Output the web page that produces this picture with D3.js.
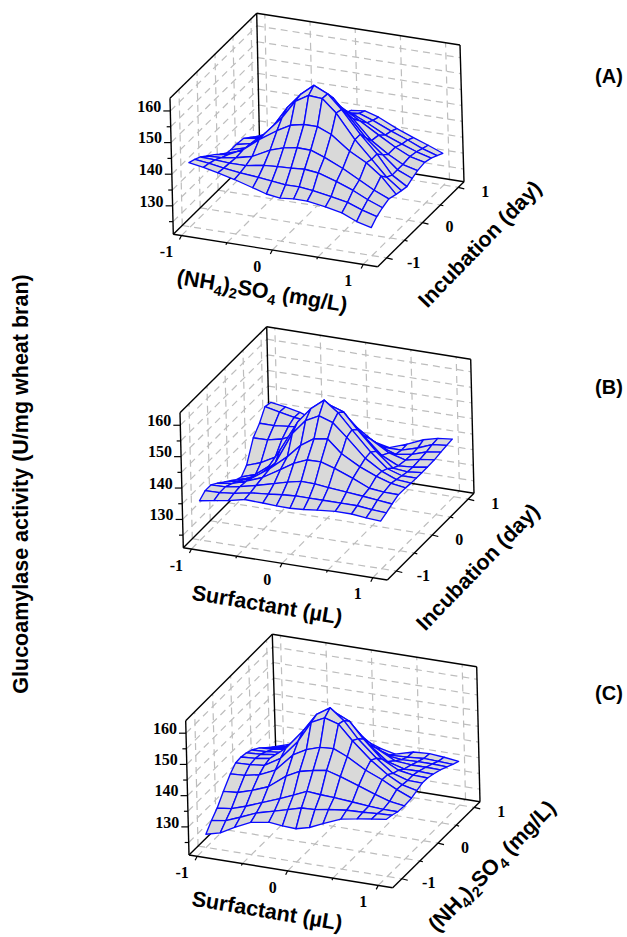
<!DOCTYPE html>
<meta charset="utf-8">
<style>
    body { margin: 0; background: #fff; }
</style>

<!-- Load d3.js -->
<script src="https://d3js.org/d3.v7.min.js"></script>

<div id="my_dataviz"></div>
<script>

    // surface nodes along both factor axes (coded levels)
    const levelsX = [-1, -.84, -.68, -.5, -.3, -.15, 0, .15, .3, .5, .68, .84, 1];
    const levelsY = [-1, -.84, -.68, -.5, -.3, -.15, 0, .15, .3, .5, .68, .84, 1];

    // activity, one row per levelsY value, front to back
    const surfaceA = [
        [141.3, 140.5, 139.5, 138.2, 136.5, 135.2, 134.6, 135, 135, 134.1, 133, 131, 129.8],
        [140.5, 140, 139.2, 138.5, 138, 137.5, 137, 137, 136.5, 135.5, 134.5, 132.8, 131.5],
        [139.5, 139.3, 139, 139, 140, 140.3, 140.5, 140.8, 140.3, 138.5, 136.5, 134.3, 132.5],
        [137.8, 138, 138.7, 139.9, 142.8, 144.2, 144.9, 144.8, 143.2, 140.6, 137.8, 135.3, 133.3],
        [136, 136.8, 139, 143, 146.7, 149.1, 150, 150, 148.2, 143.8, 141, 137.5, 132.5],
        [134.5, 135.8, 138, 143.2, 149.2, 155, 157.5, 157.2, 153.3, 145.8, 140.4, 135.5, 132],
        [132.7, 134, 137, 142.6, 150.7, 155.5, 159, 157, 152.7, 145.8, 140.4, 134.5, 131.6],
        [132.5, 133.8, 136.5, 141.5, 148, 152.5, 155.5, 154, 149.5, 143, 138.5, 134.5, 132.5],
        [132.5, 133.5, 136, 140, 145, 149, 151.5, 150, 146.5, 140.5, 137, 134.5, 133.3],
        [132.2, 133, 134.5, 137, 140.5, 143.5, 146, 146, 143.5, 140, 137, 134.8, 133.7],
        [130.5, 131.5, 133, 135, 138.5, 141, 143, 143, 141, 138, 136, 134.3, 133],
        [129, 130, 131.5, 133.5, 136.5, 139, 141, 141.5, 140, 137.5, 135.5, 133.5, 132],
        [127.7, 129, 130.5, 132.5, 135, 137.5, 140, 140.5, 139.2, 136.5, 134.5, 132.8, 131]
    ];
    const surfaceB = [
        [133.5, 134.3, 135, 136.2, 136, 135.8, 135.7, 136, 136.5, 137, 137, 136.5, 136.2],
        [134.9, 135, 135.5, 136.5, 137, 137.5, 137.8, 137.8, 137.8, 137.8, 137.8, 137.3, 137],
        [134.9, 135, 135.8, 137, 138.5, 139.7, 140.6, 140.5, 140, 139.5, 139, 138.5, 138],
        [133.4, 134, 135.5, 137.5, 140.9, 143.6, 145.4, 145.5, 144.1, 141.8, 139.5, 139, 138.9],
        [131.5, 132.5, 134.5, 138, 142.8, 147.1, 149.9, 150.5, 146.5, 143.2, 141, 139.5, 138.8],
        [130.2, 131.5, 133.5, 138, 148.5, 153.3, 155.5, 154, 150, 144.2, 140.9, 139, 138.6],
        [128.7, 130, 132.5, 140.6, 150.4, 155.4, 158.8, 155.5, 150.7, 144.5, 140, 138.5, 138.5],
        [127.9, 129.5, 133, 139.5, 148.5, 153, 155.5, 154, 149, 143, 138.5, 138, 138.5],
        [129.9, 131.5, 134, 139, 146, 150, 152, 150, 145.5, 140, 137.5, 137.8, 138.5],
        [136.4, 136.5, 137.5, 140, 143.5, 145.5, 146.5, 145, 142, 138.5, 137, 138, 138.6],
        [139, 139, 139.5, 140, 141, 142, 142.5, 140.5, 138, 136, 136.8, 138.3, 139],
        [142.5, 141.5, 140.5, 140, 139.8, 139.5, 139, 137.5, 135.5, 135.5, 137, 138.8, 139.3],
        [142, 141.3, 140.3, 138.5, 137.5, 137, 136.3, 134.5, 133.5, 135.6, 137.8, 139, 139.5]
    ];
    const surfaceC = [
        [125.2, 126.4, 128.9, 131.3, 132.3, 131.8, 131.6, 132.7, 134.6, 137, 137.9, 138.6, 139.2],
        [127.8, 128.5, 130.3, 132.5, 134, 135.2, 136.4, 136.6, 137.3, 138, 138.2, 138.5, 138.7],
        [129.9, 130.5, 132, 134, 136.2, 138, 139.9, 139.5, 139.3, 138.8, 138.3, 138, 138],
        [133.2, 133.6, 135, 137, 141.3, 143.5, 144.5, 145.2, 143.9, 141.9, 140, 138.5, 137.8],
        [136.5, 136.8, 137.7, 140, 145.8, 148.2, 149.6, 149.9, 148, 144.6, 142.4, 140, 138],
        [138.3, 138.5, 139, 142.1, 148.5, 155.2, 157.3, 156, 151.4, 146.1, 142.3, 139.8, 138.7],
        [138.5, 138.8, 139.5, 143.6, 150.2, 156, 158.8, 155.4, 150.3, 145, 141, 139.5, 139.4],
        [138.1, 138.4, 139, 142, 148, 153, 155.5, 153.5, 148.5, 143, 140.3, 139.5, 139.3],
        [137.3, 137.5, 138, 140, 145, 149.5, 151.5, 149.5, 145, 140.5, 139, 139, 138.8],
        [135.7, 136, 136.7, 138, 141.5, 144, 146, 144.5, 141.5, 138.5, 138, 138, 137.9],
        [133.7, 134.2, 135.2, 136.5, 138.5, 140, 141, 139.5, 137.5, 136.8, 137, 137, 136.8],
        [132, 133, 134.2, 135.5, 137, 138, 138, 137, 135.5, 135.8, 136.2, 136, 135.8],
        [130.5, 132, 133.2, 134.5, 136, 136.5, 136.5, 135, 134, 135.6, 135.9, 135.5, 134.9]
    ];

    // tick labels
    const factorTicks = [-1, 0, 1];
    const factorMinor = [-1, -.5, 0, .5, 1];
    const activityTicks = [130, 140, 150, 160];
    const activityMinor = [125, 130, 135, 140, 145, 150, 155, 160];

    const width = 627, height = 937;

    const nh4 = [["(NH", 0], ["4", 1], [")", 0], ["2", 1], ["SO", 0], ["4", 1], [" (mg/L)", 0]];
    const surfactant = [["Surfactant (µL)", 0]];
    const incubation = [["Incubation (day)", 0]];

    // box corners on the page, f = floor, t = top; a=front-left b=front-right c=right d=back
    const panels = [
        { tag: "(A)", tagAt: [609, 78], z: surfaceA,
          f: { a: [173.3, 234.3], b: [377.7, 266.7], c: [464, 181.7], d: [259.7, 149.3] },
          t: { a: [170, 98.3], b: [373.3, 130], c: [460, 45], d: [256.7, 13.3] },
          xTitle: nh4, xAt: [261, 298], xRot: 9.5, yTitle: incubation, yAt: [485, 249], yRot: -46 },
        { tag: "(B)", tagAt: [609, 389], z: surfaceB,
          f: { a: [183.3, 547.7], b: [387.3, 580], c: [474, 493.3], d: [270, 461] },
          t: { a: [180, 412.7], b: [384, 445.3], c: [470.7, 359.3], d: [266.7, 326.7] },
          xTitle: surfactant, xAt: [266, 612], xRot: 9.5, yTitle: incubation, yAt: [483, 572], yRot: -46 },
        { tag: "(C)", tagAt: [609, 695], z: surfaceC,
          f: { a: [189, 855], b: [392.7, 887.7], c: [480, 801.7], d: [276.3, 769] },
          t: { a: [185.7, 720.7], b: [390, 753], c: [476.7, 666.7], d: [272.3, 634.3] },
          xTitle: surfactant, xAt: [266, 918], xRot: 9.5, yTitle: nh4, yAt: [497, 871], yRot: -46 }
    ];

    // the box reaches a little past the coded levels
    const xDomain = [-1.09, 1.16], yDomain = [-1.25, 1.16], zDomain = [121, 164];

    const svg = d3.select("#my_dataviz")
        .append("svg")
        .attr("width", width)
        .attr("height", height)
        .style("display", "block");

    const lineGen = d3.line();

    panels.forEach(p => {
        const sx = d3.scaleLinear().domain(xDomain).range([0, 1]);
        const sy = d3.scaleLinear().domain(yDomain).range([0, 1]);
        const sz = d3.scaleLinear().domain(zDomain).range([0, 1]);

        // trilinear map through the eight box corners, keeps the slight perspective
        const project = (x, y, z) => {
            const u = sx(x), v = sy(y), w = sz(z);
            const level = c => [0, 1].map(k =>
                (1 - v) * ((1 - u) * c.a[k] + u * c.b[k]) + v * ((1 - u) * c.d[k] + u * c.c[k]));
            const lo = level(p.f), hi = level(p.t);
            return [lo[0] + (hi[0] - lo[0]) * w, lo[1] + (hi[1] - lo[1]) * w];
        };

        const g = svg.append("g");
        const [x0, x1] = xDomain, [y0, y1] = yDomain, [z0, z1] = zDomain;

        // dashed walls and floor
        const gridLines = [];
        factorMinor.forEach(v => {
            gridLines.push([[v, y1, z0], [v, y1, z1]]);   // back wall
            gridLines.push([[v, y0, z0], [v, y1, z0]]);   // floor
            gridLines.push([[x0, v, z0], [x0, v, z1]]);   // left wall
            gridLines.push([[x0, v, z0], [x1, v, z0]]);   // floor
        });
        activityMinor.forEach(v => {
            gridLines.push([[x0, y0, v], [x0, y1, v]]);
            gridLines.push([[x0, y1, v], [x1, y1, v]]);
        });
        g.selectAll(".gridline")
            .data(gridLines)
            .join("path")
            .attr("class", "gridline")
            .attr("d", d => lineGen(d.map(c => project(...c))))
            .attr("fill", "none")
            .attr("stroke", "#bdbdbd")
            .attr("stroke-width", 1.2)
            .attr("stroke-dasharray", "7,5");

        // black box edges
        const edges = [
            [[x0, y0, z0], [x1, y0, z0]], [[x1, y0, z0], [x1, y1, z0]],
            [[x1, y1, z0], [x0, y1, z0]], [[x0, y1, z0], [x0, y0, z0]],
            [[x0, y0, z0], [x0, y0, z1]], [[x0, y0, z1], [x0, y1, z1]],
            [[x0, y1, z1], [x0, y1, z0]], [[x0, y1, z1], [x1, y1, z1]],
            [[x1, y1, z1], [x1, y1, z0]]
        ];
        g.selectAll(".edge")
            .data(edges)
            .join("path")
            .attr("class", "edge")
            .attr("d", d => lineGen(d.map(c => project(...c))))
            .attr("fill", "none")
            .attr("stroke", "#000")
            .attr("stroke-width", 1.4);

        // tick marks
        const tickLines = [];
        factorMinor.forEach(v => {
            const major = factorTicks.includes(v);
            const a = project(v, y0, z0), b = project(x1, v, z0);
            tickLines.push([a, [a[0] - (major ? 2 : 1), a[1] + (major ? 4 : 2)]]);
            tickLines.push([b, [b[0] + (major ? 6 : 3), b[1] + (major ? 1.5 : .8)]]);
        });
        activityMinor.forEach(v => {
            const a = project(x0, y0, v);
            tickLines.push([a, [a[0] - (activityTicks.includes(v) ? 7 : 4), a[1]]]);
        });
        g.selectAll(".tick")
            .data(tickLines)
            .join("path")
            .attr("class", "tick")
            .attr("d", d => lineGen(d))
            .attr("stroke", "#000")
            .attr("stroke-width", 1.2);

        // quads back to front so the front sheet covers the back one
        const quads = [];
        for (let j = levelsY.length - 2; j >= 0; j--) {
            for (let i = 0; i < levelsX.length - 1; i++) {
                quads.push([
                    [levelsX[i], levelsY[j], p.z[j][i]],
                    [levelsX[i + 1], levelsY[j], p.z[j][i + 1]],
                    [levelsX[i + 1], levelsY[j + 1], p.z[j + 1][i + 1]],
                    [levelsX[i], levelsY[j + 1], p.z[j + 1][i]]
                ]);
            }
        }
        g.selectAll(".cell")
            .data(quads)
            .join("path")
            .attr("class", "cell")
            .attr("d", d => lineGen(d.map(c => project(...c))) + "Z")
            .attr("fill", "#d9d9d9")
            .attr("stroke", "#0a0aff")
            .attr("stroke-width", 1.35)
            .attr("stroke-linejoin", "round");

        // tick labels
        const tickFont = text => text
            .attr("font-family", "'Liberation Serif', serif")
            .attr("font-weight", "bold")
            .attr("font-size", 16)
            .attr("fill", "#000")
            .attr("dominant-baseline", "middle");

        factorTicks.forEach(v => {
            const a = project(v, y0, z0), b = project(x1, v, z0);
            g.append("text").call(tickFont)
                .attr("x", a[0] - 15).attr("y", a[1] + 18)
                .attr("text-anchor", "middle").text(v);
            g.append("text").call(tickFont)
                .attr("x", b[0] + 27).attr("y", b[1] + 6)
                .attr("text-anchor", "middle").text(v);
        });
        activityTicks.forEach(v => {
            const a = project(x0, y0, v);
            g.append("text").call(tickFont)
                .attr("x", a[0] - 9).attr("y", a[1] - 3)
                .attr("text-anchor", "end").text(v);
        });

        // axis titles
        const drawTitle = (parts, at, rot) => {
            const t = g.append("text")
                .attr("transform", `translate(${at[0]},${at[1]})rotate(${rot})`)
                .attr("text-anchor", "middle")
                .attr("font-family", "'Liberation Sans', Arial, sans-serif")
                .attr("font-weight", "bold")
                .attr("font-size", 21.5)
                .attr("fill", "#000");
            let low = 0;
            parts.forEach(([s, sub]) => {
                t.append("tspan")
                    .attr("dy", (sub ? 5 : 0) - low)
                    .attr("font-size", sub ? 14.5 : 21.5)
                    .text(s);
                low = sub ? 5 : 0;
            });
        };
        drawTitle(p.xTitle, p.xAt, p.xRot);
        drawTitle(p.yTitle, p.yAt, p.yRot);

        g.append("text")
            .attr("x", p.tagAt[0]).attr("y", p.tagAt[1])
            .attr("text-anchor", "middle")
            .attr("dominant-baseline", "middle")
            .attr("font-family", "'Liberation Sans', Arial, sans-serif")
            .attr("font-weight", "bold")
            .attr("font-size", 20)
            .text(p.tag);
    });

    svg.append("text")
        .attr("transform", "translate(28,484)rotate(-90)")
        .attr("text-anchor", "middle")
        .attr("font-family", "'Liberation Sans', Arial, sans-serif")
        .attr("font-weight", "bold")
        .attr("font-size", 21.5)
        .text("Glucoamylase activity (U/mg wheat bran)");
</script>
